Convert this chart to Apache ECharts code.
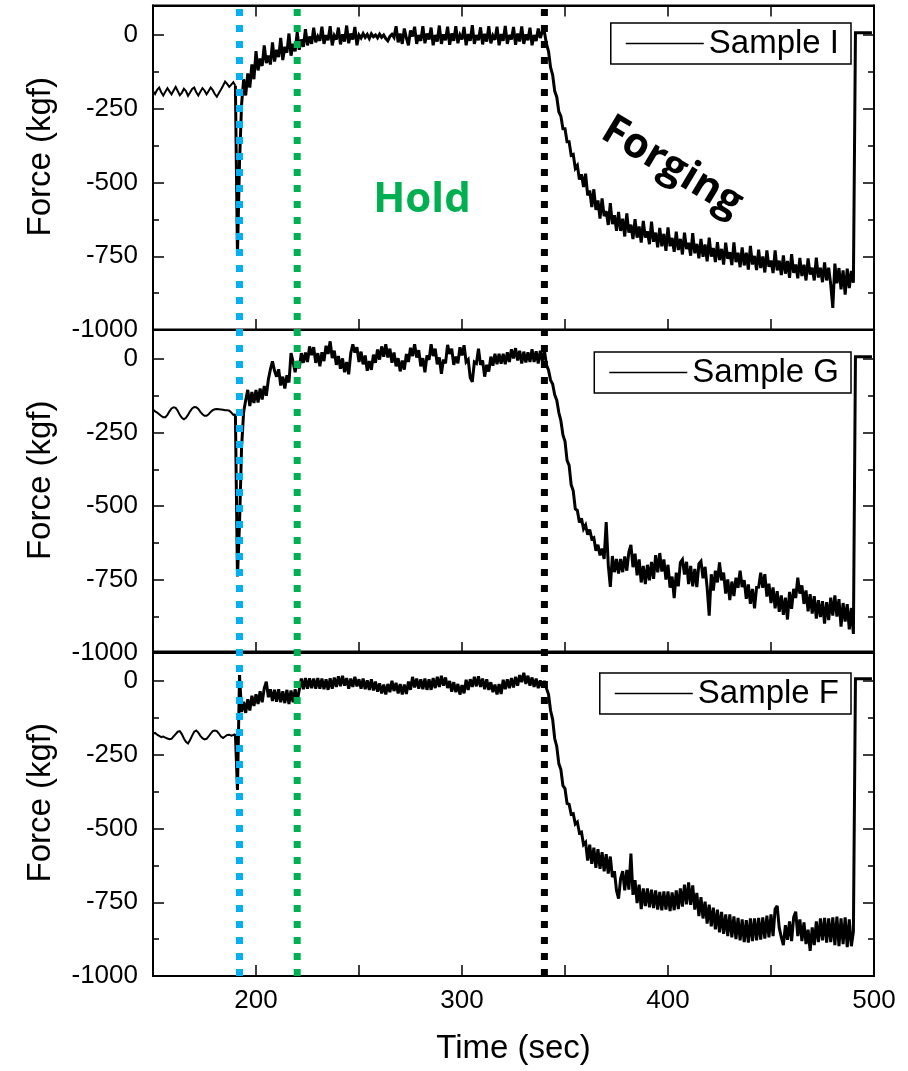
<!DOCTYPE html>
<html>
<head>
<meta charset="utf-8">
<script src="https://cdn.jsdelivr.net/npm/echarts@6/dist/echarts.min.js"></script>
<style>
  html, body { margin: 0; padding: 0; background: #fff; }
  #chart { width: 908px; height: 1071px; }
</style>
</head>
<body>
<div id="chart"></div>
<script>
// Load-cell force recorded once per second, starting at TIME_START.
const TIME_START = 150; // s
const TIME_STEP = 1;    // s
const APPROACH_END = 190; // s, last sample before the tool touches the part

const sampleNames = ['Sample I', 'Sample G', 'Sample F'];

// Sample I force (kgf), 150 s .. 499 s
const forceI = [
  -190, -200, -186, -178, -194, -205, -192, -180, -191, -201,
  -188, -176, -190, -204, -196, -182, -190, -206, -195, -183,
  -178, -194, -205, -192, -180, -188, -201, -190, -178, -187,
  -200, -209, -197, -185, -172, -158, -166, -176, -168, -160,
  -172, -745, -430, -235, -150, -205, -130, -178, -100, -150,
  -55, -120, -80, -105, -35, -95, -70, -100, -25, -90,
  -50, -75, -10, -85, -40, -60, 5, -70, -30, -55,
  10, -50, -15, -40, 20, -35, -5, -30, 25, -25,
  -5, -20, 28, -30, 0, -18, 30, -35, -2, -15,
  25, -32, 2, -22, 32, -28, 5, -15, 27, -35,
  0, -10, 5, -8, 2, -12, 4, -6, 0, -10,
  3, -8, 0, -12, -20, -5, 2, -8, 30, -25,
  5, -30, 22, -10, -35, 15, -5, 28, -30, 0,
  -20, 30, -28, 5, -15, 25, -35, 0, -22, 32,
  -30, 2, -18, 28, -33, 5, -20, 30, -28, 0,
  -15, 27, -35, 3, -20, 33, -30, 0, -18, 26,
  -32, 4, -22, 30, -28, -2, -16, 28, -35, 3,
  -20, 31, -30, 0, -15, 27, -33, 5, -22, 29,
  -30, 2, -18, 25, -35, 0, -20, 22, -10, 12,
  10, -30, -55, -110, -135, -190, -210, -260, -275, -318,
  -318, -362, -362, -408, -405, -452, -442, -490, -472, -515,
  -470, -544, -527, -583, -523, -593, -561, -622, -554, -614,
  -597, -644, -570, -641, -611, -664, -600, -664, -623, -683,
  -605, -670, -643, -692, -624, -687, -649, -704, -630, -687,
  -665, -709, -633, -701, -670, -720, -654, -716, -674, -732,
  -652, -716, -688, -735, -667, -729, -691, -744, -670, -726,
  -704, -748, -672, -740, -708, -757, -691, -752, -710, -767,
  -687, -751, -722, -770, -702, -763, -725, -778, -704, -759,
  -736, -780, -703, -770, -738, -787, -720, -781, -738, -795,
  -715, -778, -749, -797, -728, -790, -751, -805, -730, -786,
  -764, -807, -730, -798, -765, -814, -747, -809, -766, -823,
  -743, -806, -778, -825, -756, -817, -779, -832, -757, -812,
  -789, -832, -755, -822, -789, -838, -771, -832, -789, -846,
  -925, -775, -842, -790, -862, -798, -880, -792, -858, -800,
  -840, 8, 8, 8, 8, 8, 8, 8, 8, 8
];

// Sample G force (kgf), 150 s .. 499 s
const forceG = [
  -172, -178, -182, -188, -194, -198, -198, -190, -178, -168,
  -164, -166, -176, -190, -200, -205, -200, -190, -178, -168,
  -163, -164, -170, -180, -188, -193, -193, -188, -180, -174,
  -171, -170, -171, -172, -173, -174, -174, -176, -182, -190,
  -188, -740, -560, -300, -180, -140, -105, -160, -112, -150,
  -105, -148, -100, -138, -92, -125, -70, -35, -8, -40,
  -60, -35, -90, -60, -100, -55, -80, 20, -10, -45,
  -7, -32, 20, -13, 22, -10, 43, 13, 40, -13,
  20, -25, 23, -7, 45, 17, 60, 3, 28, -20,
  10, -33, 2, -45, -10, -52, 20, 50, 22, 40,
  -10, 25, -18, 12, -40, -7, -37, 15, -13, 32,
  -2, 43, 8, 50, 5, 35, -13, 22, -25, 3,
  -42, -5, -36, 17, -10, 38, 10, 50, 5, 30,
  -25, 3, -45, 12, -3, 50, 10, 35, -18, 5,
  -50, -2, -15, 48, 17, 35, -20, 8, -15, 40,
  12, 47, -10, -2, -63, -78, -10, -15, 35, -20,
  -5, -60, -20, -43, 8, -23, 18, -18, 18, -16,
  18, -18, 23, -10, 33, 2, 37, -5, 28, -15,
  25, -12, 23, -10, 33, -10, 26, -15, 28, -7,
  30, -20, -38, -72, -85, -122, -140, -182, -210, -258,
  -280, -345, -362, -428, -448, -510, -515, -556, -542, -578,
  -565, -598, -580, -612, -608, -652, -632, -668, -645, -680,
  -555, -700, -775, -670, -725, -680, -730, -680, -725, -672,
  -720, -657, -632, -708, -662, -736, -682, -760, -704, -766,
  -700, -753, -690, -748, -667, -726, -660, -723, -682, -750,
  -700, -778, -740, -813, -727, -773, -692, -682, -733, -690,
  -766, -704, -773, -714, -776, -697, -688, -746, -707, -778,
  -873, -732, -788, -720, -760, -692, -753, -727, -798, -750,
  -820, -757, -806, -744, -778, -720, -776, -752, -816, -767,
  -833, -782, -848, -777, -776, -727, -778, -732, -808, -764,
  -830, -777, -848, -790, -860, -804, -870, -812, -886, -792,
  -850, -782, -813, -744, -798, -770, -833, -787, -858, -800,
  -866, -807, -883, -820, -878, -824, -900, -827, -888, -812,
  -873, -804, -876, -817, -910, -830, -893, -834, -920, -847,
  -935, 8, 8, 8, 8, 8, 8, 8, 8, 8
];

// Sample F force (kgf), 150 s .. 499 s
const forceF = [
  -178, -176, -182, -186, -190, -188, -192, -195, -197, -196,
  -188, -180, -172, -170, -180, -195, -206, -212, -200, -185,
  -172, -168, -175, -186, -194, -198, -196, -188, -178, -170,
  -168, -170, -178, -188, -193, -188, -183, -182, -185, -183,
  -180, -369, 20, -105, -70, -108, -62, -100, -50, -85,
  -45, -78, -35, -72, -25, -2, -55, -28, -68, -30,
  -70, -28, -72, -35, -75, -30, -78, -32, -72, -28,
  -70, -30, 8, -28, 10, -26, 9, -24, 8, -26,
  10, -26, 8, -28, 6, -30, 9, -26, 12, -20,
  16, -18, 18, -16, 10, -26, 8, -20, 14, -18,
  6, -26, 8, -28, 2, -30, 6, -32, -2, -36,
  -8, -42, -12, -46, -10, -38, 1, -34, -6, -42,
  -10, -46, -12, -44, -2, -30, 14, -22, 8, -26,
  6, -28, 8, -30, 6, -30, 10, -24, 14, -20,
  18, -16, 12, -24, 0, -36, -4, -38, -10, -46,
  -14, -42, 4, -30, 6, -20, 14, -18, 16, -20,
  8, -28, 6, -30, -4, -38, -12, -46, -10, -44,
  4, -28, 6, -24, 10, -22, 14, -16, 20, -4,
  28, -10, 18, -16, 12, -20, 8, -24, 2, -20,
  0, -25, -45, -100, -130, -195, -222, -280, -300, -355,
  -365, -415, -418, -452, -450, -485, -478, -515, -512, -555,
  -547, -609, -555, -620, -565, -633, -570, -637, -580, -645,
  -587, -653, -595, -665, -645, -710, -738, -670, -645, -710,
  -640, -707, -585, -725, -675, -753, -690, -773, -703, -763,
  -703, -767, -707, -770, -710, -775, -715, -777, -713, -775,
  -713, -780, -717, -777, -710, -773, -703, -765, -690, -757,
  -683, -759, -693, -775, -718, -797, -733, -805, -748, -822,
  -758, -832, -768, -842, -775, -852, -783, -857, -791, -865,
  -791, -869, -798, -875, -803, -879, -808, -885, -811, -887,
  -805, -882, -805, -879, -803, -877, -801, -873, -795, -869,
  -791, -865, -773, -762, -837, -868, -895, -828, -877, -815,
  -882, -801, -782, -865, -808, -882, -818, -892, -843, -915,
  -835, -895, -815, -885, -805, -879, -803, -887, -805, -885,
  -801, -895, -799, -899, -805, -892, -801, -902, -808, -899,
  -850, 8, 8, 8, 8, 8, 8, 8, 8, 8
];

// Process stage boundaries (s): contact, start of hold, start of forging
const stageTimes = [192, 220, 340];
const stageNames = ['Contact', 'Hold start', 'Forging start'];
const stageColors = ['#00B0F0', '#00B050', '#000000'];

// Axis ranges and tick spacing
const timeRange = [150, 500];
const timeTickStep = 50;
const timeLabelStep = 100;
const forceRange = [-1000, 100];
const forceMajorStep = 250;
const forceMinorStep = 125;

const seriesForces = [forceI, forceG, forceF];

const FONT = '"Liberation Sans", Arial, Helvetica, sans-serif';
const BOLD_FONT = '"Open Sans", "Liberation Sans", sans-serif';

// Stacked panel layout (px)
const PLOT_LEFT = 153, PLOT_RIGHT = 34;
const panels = [
  { top: 5.5, height: 324.5, legendTop: 23 },
  { top: 329.6, height: 323.4, legendTop: 352 },
  { top: 651.5, height: 324.5, legendTop: 673 }
];

const chart = echarts.init(document.getElementById('chart'), null, { renderer: 'canvas' });

const grids = panels.map(p => ({
  left: PLOT_LEFT, right: PLOT_RIGHT, top: p.top, height: p.height,
  show: true, borderColor: '#000', borderWidth: 2, backgroundColor: 'transparent',
  outerBoundsMode: 'none'
}));
// overlay spanning all panels for the stage markers
grids.push({
  left: PLOT_LEFT, right: PLOT_RIGHT, top: panels[0].top,
  height: panels[2].top + panels[2].height - panels[0].top,
  show: false, outerBoundsMode: 'none'
});

const axisLineStyle = { color: '#000', width: 2 };
const tickLineStyle = { color: '#000', width: 1.5 };

function timeAxis(gridIndex, position, withLabels) {
  const ax = {
    gridIndex, type: 'value', position,
    min: timeRange[0], max: timeRange[1], interval: timeTickStep,
    axisLine: { show: true, onZero: false, lineStyle: axisLineStyle },
    axisTick: { show: true, inside: true, length: 11, lineStyle: tickLineStyle },
    axisLabel: {
      show: withLabels, margin: 12, color: '#000', fontSize: 26, fontFamily: FONT,
      hideOverlap: false, showMinLabel: true, showMaxLabel: true,
      formatter: v => (v % timeLabelStep === 0 && v > timeRange[0]) ? String(v) : ''
    },
    splitLine: { show: false }
  };
  if (withLabels) {
    ax.name = 'Time (sec)';
    ax.nameLocation = 'middle';
    ax.nameGap = 56;
    ax.nameTextStyle = { color: '#000', fontSize: 33, fontFamily: FONT };
  }
  return ax;
}

const xAxes = [];
const seriesXIndex = [];
panels.forEach((p, k) => {
  seriesXIndex.push(xAxes.length);
  xAxes.push(timeAxis(k, 'bottom', k === 2));
  if (k === 0) xAxes.push(timeAxis(k, 'top', false));
});
const overlayXIndex = xAxes.length;
xAxes.push({ gridIndex: 3, type: 'value', min: timeRange[0], max: timeRange[1], show: false });

function forceAxis(gridIndex, position, step, tickLen, main) {
  const ax = {
    gridIndex, type: 'value', position,
    min: forceRange[0], max: forceRange[1], interval: step,
    axisLine: { show: main, onZero: false, lineStyle: axisLineStyle },
    axisTick: { show: true, inside: true, length: tickLen, lineStyle: tickLineStyle },
    axisLabel: { show: false },
    splitLine: { show: false }
  };
  if (main && position === 'left') {
    ax.axisLabel = {
      show: true, margin: 15, color: '#000', fontSize: 26, fontFamily: FONT,
      showMinLabel: true, showMaxLabel: false, hideOverlap: false,
      formatter: v => String(v)
    };
    ax.name = 'Force (kgf)';
    ax.nameLocation = 'middle';
    ax.nameRotate = 90;
    ax.nameGap = 96;
    ax.nameTextStyle = { color: '#000', fontSize: 33, fontFamily: FONT, padding: [0, 0, 0, 22] };
  }
  return ax;
}

const yAxes = [];
const seriesYIndex = [];
panels.forEach((p, k) => {
  seriesYIndex.push(yAxes.length);
  yAxes.push(forceAxis(k, 'left', forceMajorStep, 11, true));
  yAxes.push(forceAxis(k, 'left', forceMinorStep, 6, false));
  yAxes.push(forceAxis(k, 'right', forceMajorStep, 11, true));
  yAxes.push(forceAxis(k, 'right', forceMinorStep, 6, false));
});
const overlayYIndex = yAxes.length;
yAxes.push({ gridIndex: 3, type: 'value', min: 0, max: 1, show: false });

// Each sample is drawn in two parts: the free approach (thin trace) and the
// loaded contact/hold/forging phase (heavier trace), sharing one legend entry.
const series = [];
seriesForces.forEach((vals, k) => {
  const pts = vals.map((f, i) => [TIME_START + i * TIME_STEP, f]);
  const parts = [
    { data: pts.filter(p => p[0] <= APPROACH_END), width: 2 },
    { data: pts.filter(p => p[0] >= APPROACH_END), width: 3 }
  ];
  parts.forEach(part => {
    series.push({
      type: 'line',
      name: sampleNames[k],
      xAxisIndex: seriesXIndex[k],
      yAxisIndex: seriesYIndex[k],
      data: part.data,
      symbol: 'none',
      showSymbol: false,
      lineStyle: { color: '#000', width: part.width, join: 'miter', miterLimit: 3 },
      itemStyle: { color: '#000' },
      emphasis: { disabled: true },
      animation: false,
      z: 3
    });
  });
});

stageTimes.forEach((t, i) => {
  series.push({
    type: 'line',
    name: stageNames[i],
    xAxisIndex: overlayXIndex,
    yAxisIndex: overlayYIndex,
    data: [[t, 0], [t, 1]],
    symbol: 'none',
    lineStyle: { color: stageColors[i], width: 7, type: [7, 9], cap: 'butt' },
    silent: true,
    animation: false,
    z: 6
  });
});

const legends = panels.map((p, k) => ({
  data: [sampleNames[k]],
  top: p.legendTop,
  right: 57,
  orient: 'horizontal',
  icon: 'rect',
  itemWidth: 78,
  itemHeight: 1.5,
  itemGap: 0,
  padding: [4, 12, 4, 15],
  borderColor: '#000',
  borderWidth: 1.5,
  borderRadius: 0,
  backgroundColor: '#fff',
  selectedMode: false,
  itemStyle: { color: '#000', borderWidth: 0 },
  textStyle: { color: '#000', fontSize: 33, fontFamily: FONT, lineHeight: 33 }
}));

const option = {
  backgroundColor: '#fff',
  animation: false,
  textStyle: { fontFamily: FONT },
  grid: grids,
  xAxis: xAxes,
  yAxis: yAxes,
  legend: legends,
  series,
  graphic: [
    {
      type: 'text', x: 422, y: 200, z: 20,
      style: {
        text: 'Hold', fill: '#00B050', fontSize: 42, fontWeight: 'bold', fontFamily: BOLD_FONT,
        align: 'center', verticalAlign: 'middle', textAlign: 'center', textVerticalAlign: 'middle'
      }
    },
    {
      type: 'text', x: 672, y: 167, z: 20, rotation: -31 * Math.PI / 180,
      style: {
        text: 'Forging', fill: '#000', fontSize: 42, fontWeight: 'bold', fontFamily: BOLD_FONT,
        align: 'center', verticalAlign: 'middle', textAlign: 'center', textVerticalAlign: 'middle'
      }
    }
  ]
};

chart.setOption(option);
</script>
</body>
</html>
